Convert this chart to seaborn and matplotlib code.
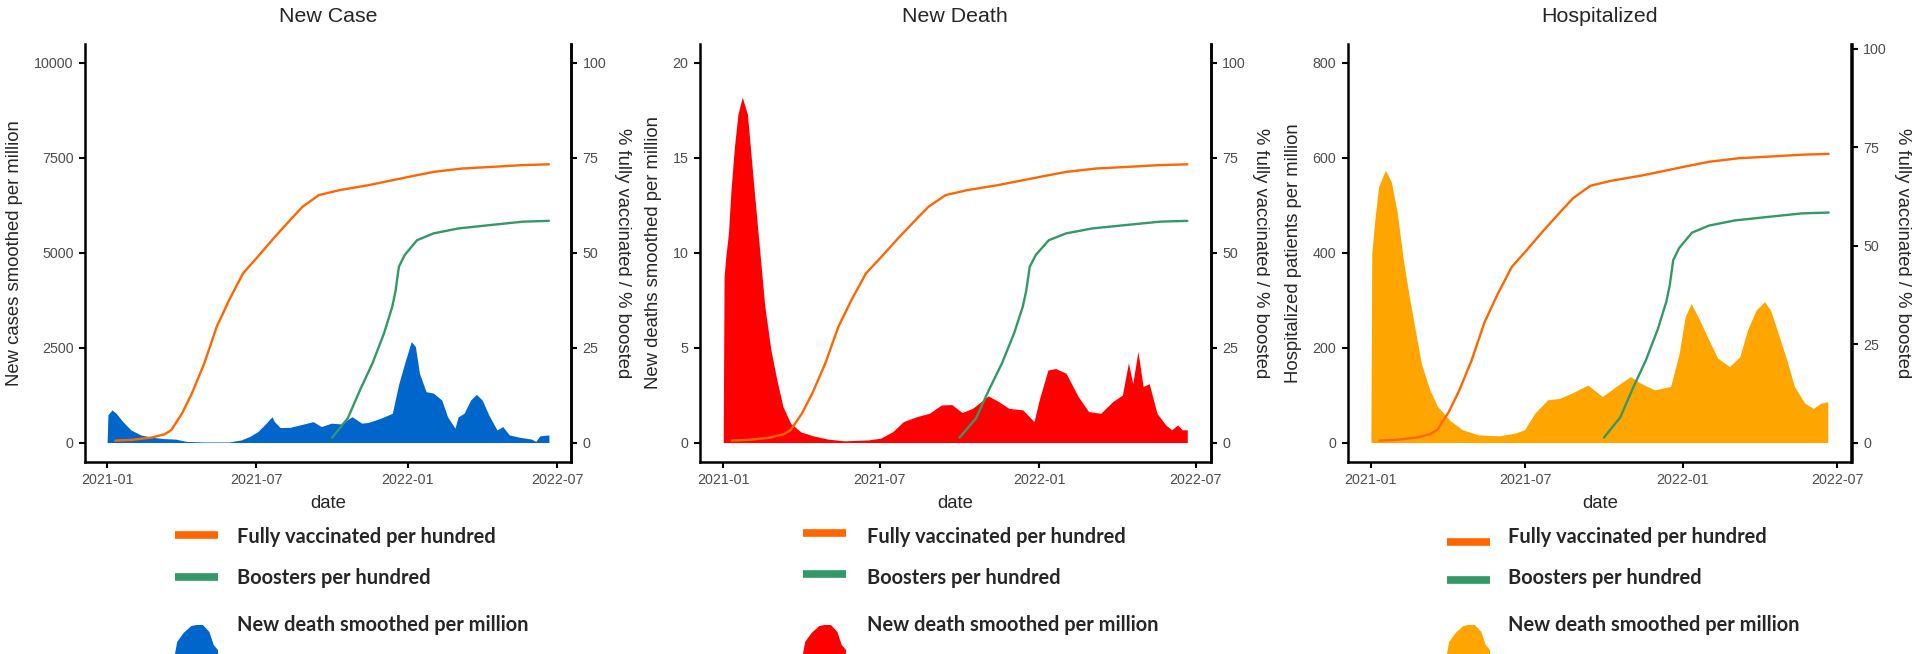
import numpy as np
import pandas as pd
import matplotlib
matplotlib.use('Agg')
import matplotlib.pyplot as plt
from matplotlib.lines import Line2D
from matplotlib.patches import Polygon
import seaborn as sns

start = pd.Timestamp('2021-01-01')

# vaccination (same in every panel), x = days since 2021-01-01
vax_day = [10, 30, 54, 70, 78, 91, 103, 118, 133, 148, 165, 183, 202, 222, 237, 257, 282, 317, 346, 366, 396, 431, 465, 505, 536]
vax_pct = [0.5, 0.7, 1.3, 2.2, 3.3, 7.7, 13, 20.9, 30.5, 37.5, 44.6, 49, 53.8, 58.6, 62.1, 65.2, 66.5, 67.8, 69.1, 70, 71.3, 72.2, 72.6, 73.1, 73.3]
boost_day = [273, 292, 307, 322, 336, 346, 350, 354, 361, 376, 396, 426, 465, 505, 536]
boost_pct = [1.3, 6.4, 13.9, 20.9, 28.8, 35.8, 40, 46.3, 49.4, 53.3, 55.1, 56.4, 57.3, 58.2, 58.4]

# new cases smoothed per million
case_day = [0, 1, 6, 11, 19, 29, 41, 54, 68, 83, 96, 118, 148, 163, 173, 183, 193, 200, 203, 210, 222, 237, 250, 260,
            272, 284, 297, 309, 317, 332, 346, 354, 361, 369, 374, 379, 387, 396, 406, 413, 422, 426, 433, 441, 448,
            455, 463, 473, 480, 488, 500, 515, 520, 525, 536]
case_val = [0, 730, 860, 770, 550, 330, 200, 140, 105, 90, 30, 15, 15, 70, 160, 290, 510, 680, 550, 395, 400, 480, 550, 420,
            510, 490, 680, 510, 530, 640, 770, 1560, 2090, 2660, 2530, 1820, 1340, 1300, 1120, 680, 380, 680, 770, 1120, 1270,
            1120, 730, 330, 420, 200, 140, 90, 30, 175, 200]

# new deaths smoothed per million
death_day = [0, 1, 3, 6, 9, 13, 17, 22, 28, 34, 41, 48, 55, 62, 69, 78, 90, 104, 121, 140, 168, 182, 196, 208, 224, 238,
             252, 264, 276, 288, 306, 318, 330, 346, 359, 365, 375, 384, 396, 410, 422, 436, 450, 461, 468, 473, 479,
             485, 492, 501, 511, 518, 525, 530, 536]
death_val = [0, 8.7, 9.8, 11.0, 13.3, 15.6, 17.3, 18.2, 17.3, 14.2, 10.7, 7.2, 4.9, 3.3, 1.9, 1.0, 0.55, 0.35, 0.18, 0.09,
             0.14, 0.23, 0.58, 1.1, 1.37, 1.54, 1.98, 2.0, 1.58, 1.8, 2.46, 2.16, 1.8, 1.72, 1.1, 2.25, 3.82, 3.9, 3.65,
             2.42, 1.63, 1.54, 2.16, 2.5, 4.2, 3.1, 4.8, 2.95, 3.1, 1.54, 0.93, 0.67, 0.93, 0.67, 0.67]

# hospitalized patients per million
hosp_day = [0, 1, 5, 9, 17, 24, 31, 38, 45, 52, 59, 69, 78, 93, 107, 126, 150, 169, 180, 192, 207, 221, 235, 254, 271,
            287, 304, 316, 332, 351, 361, 368, 375, 385, 394, 406, 420, 432, 441, 451, 461, 468, 477, 487, 496, 508,
            518, 527, 535]
hosp_val = [0, 399, 476, 539, 574, 549, 483, 385, 307, 237, 167, 111, 76, 46, 27, 16, 14, 20, 27, 62, 90, 93, 104, 121, 97,
            118, 139, 125, 111, 118, 188, 265, 293, 258, 223, 178, 160, 181, 237, 279, 297, 279, 230, 174, 118, 83,
            72, 83, 86]

titles = ['New Case', 'New Death', 'Hospitalized']
ylabels = ['New cases smoothed per million', 'New deaths smoothed per million', 'Hospitalized patients per million']
fill_colors = ['#0066CC', '#FF0000', '#FFA500']
left_ticks = [[0, 2500, 5000, 7500, 10000], [0, 5, 10, 15, 20], [0, 200, 400, 600, 800]]
left_lims = [(-500, 10500), (-1, 21), (-40, 840)]
right_lims = [(-5, 105), (-5, 105), (-4.8, 101.2)]
right_ticks = [0, 25, 50, 75, 100]
x_ticks = ['2021-01', '2021-07', '2022-01', '2022-07']
legend_labels = ['Fully vaccinated per hundred', 'Boosters per hundred', 'New death smoothed per million']

vax_color = '#FF6600'
boost_color = '#339966'

sns.set_theme(style='ticks')
plt.rcParams['font.family'] = ['Liberation Sans', 'DejaVu Sans']

W, H = 1915, 654
fig = plt.figure(figsize=(W / 100, H / 100), dpi=100)

# axes boxes in pixels: left, right, top, bottom
boxes = [(85, 571, 44, 461.5), (700, 1210.5, 44, 461.5), (1348, 1851.5, 44, 461.5)]
# y-label centres in pixels (left, right)
label_x = [(15, 622), (654, 1261), (1294, 1902)]
areas = [(case_day, case_val), (death_day, death_val), (hosp_day, hosp_val)]

def days(d):
  return start + pd.to_timedelta(d, unit='D')

for i in range(3):
  l, r, t, b = boxes[i]
  ax = fig.add_axes([l / W, 1 - b / H, (r - l) / W, (b - t) / H])
  ax2 = ax.twinx()

  d, v = areas[i]
  ax.fill_between(days(d), 0, v, color=fill_colors[i], linewidth=0)
  sns.lineplot(x=days(vax_day), y=vax_pct, ax=ax2, color=vax_color, linewidth=1.7)
  sns.lineplot(x=days(boost_day), y=boost_pct, ax=ax2, color=boost_color, linewidth=1.7)

  ax.set_xlim(start - pd.Timedelta(days=26.8), start + pd.Timedelta(days=562.8))
  ax.set_ylim(*left_lims[i])
  ax2.set_ylim(*right_lims[i])
  ax.set_yticks(left_ticks[i])
  ax2.set_yticks(right_ticks)
  ax.set_xticks([pd.Timestamp(s + '-01') for s in x_ticks])
  ax.set_xticklabels(x_ticks)

  for a in (ax, ax2):
    a.spines['top'].set_visible(False)
    for s in a.spines.values():
      s.set_linewidth(1.8)
      s.set_color('black')
    a.tick_params(length=4.3, width=1.5, color='black', labelsize=10.3, labelcolor='#4D4D4D', pad=4)
    a.grid(False)
  ax2.spines['left'].set_visible(False)
  ax2.spines['bottom'].set_visible(False)

  hgt = b - t
  ax.set_title(titles[i], fontsize=15.4, y=(b - 17) / hgt, va='center', pad=0)
  ax.set_xlabel('date', fontsize=13.3)
  ax.xaxis.set_label_coords(0.5, (b - 504) / hgt)
  ax.xaxis.label.set_va('center')
  ax.set_ylabel(ylabels[i], fontsize=13.3)
  ax2.set_ylabel('% fully vaccinated / % boosted', fontsize=13.3, rotation=270)
  lx, rx = label_x[i]
  ax.yaxis.set_label_coords((lx - l) / (r - l), 0.5)
  ax2.yaxis.set_label_coords((rx - l) / (r - l), 0.5)
  ax.yaxis.label.set_va('center')
  ax2.yaxis.label.set_va('center')

# legends under each panel (pixel positions)
leg = [(175, 218, 237, 535, 577, 537, 578, 625),
       (803, 846, 867, 533, 574, 537, 578, 625),
       (1447, 1490, 1508, 542, 580, 537, 578, 625)]

def fx(x):
  return x / W

def fy(y):
  return 1 - y / H

for i in range(3):
  x0, x1, tx, ly1, ly2, t1, t2, t3 = leg[i]
  fig.add_artist(Line2D([fx(x0), fx(x1)], [fy(ly1), fy(ly1)], color=vax_color, linewidth=5.5, solid_capstyle='butt'))
  fig.add_artist(Line2D([fx(x0), fx(x1)], [fy(ly2), fy(ly2)], color=boost_color, linewidth=5.5, solid_capstyle='butt'))
  w = x1 - x0
  pts = [(0, 654), (0.05, 642), (0.2, 633), (0.38, 626), (0.5, 625), (0.65, 625), (0.8, 632), (0.9, 645), (1.0, 650), (1.0, 654)]
  fig.add_artist(Polygon([(fx(x0 + px * w), fy(py)) for px, py in pts], closed=True, color=fill_colors[i], linewidth=0))
  for ty, lab in zip([t1, t2, t3], legend_labels):
    fig.text(fx(tx), fy(ty), lab, fontsize=14.4, fontweight='bold', family=['Lato', 'DejaVu Sans'], va='center', ha='left')

plt.savefig('out.png', dpi=100)
